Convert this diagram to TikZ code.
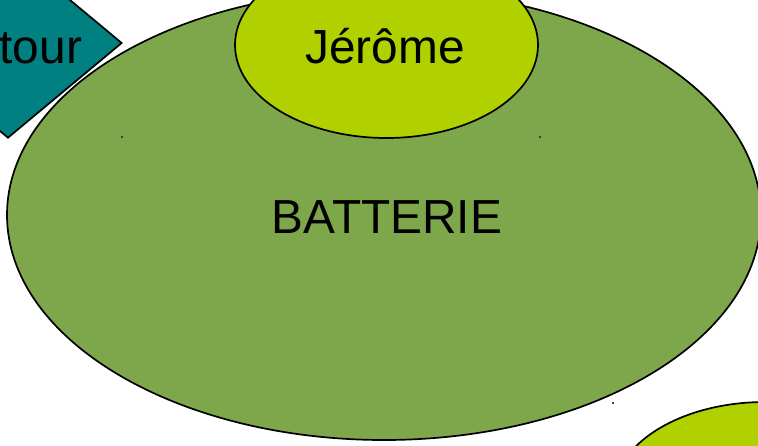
\documentclass[tikz,border=0pt]{standalone}
\usepackage{fontspec}
\setmainfont{Liberation Sans}
\usetikzlibrary{shapes.geometric}
\definecolor{bigg}{RGB}{126,167,75}
\definecolor{limeg}{RGB}{176,208,0}
\definecolor{tealc}{RGB}{0,128,128}
\begin{document}
\begin{tikzpicture}[x=1pt,y=-1pt,
  shapeline/.style={draw=black,line width=1.7pt,inner sep=0pt},
  lbl/.style={font=\fontsize{47.8}{52}\selectfont,inner sep=0pt},
  speck/.style={fill=black!75,inner sep=0pt,minimum size=1.6pt,rectangle}]
\useasboundingbox (0,0) rectangle (758,445);
\clip (0,0) rectangle (758,445);
\node[diamond,shapeline,fill=tealc,minimum width=228pt,minimum height=190pt] (dia) at (8,43) {};
\node[ellipse,shapeline,fill=bigg,minimum width=754pt,minimum height=450pt] (bat) at (384,215) {};
\node[ellipse,shapeline,fill=limeg,minimum width=303pt,minimum height=186pt] (jer) at (386.5,45) {};
\node[ellipse,shapeline,fill=limeg,minimum width=303pt,minimum height=186pt] (e3) at (765,495) {};
\node[lbl,anchor=base west] (tourtxt) at (-0.5,63) {tour};
\node[lbl,anchor=base] (jertxt) at (385,63) {Jérôme};
\node[lbl,anchor=base] (battxt) at (387,233) {BATTERIE};
\node[speck] (s1) at (122,137) {};
\node[speck] (s2) at (540,137) {};
\node[speck] (s3) at (613,403) {};
\end{tikzpicture}
\end{document}
